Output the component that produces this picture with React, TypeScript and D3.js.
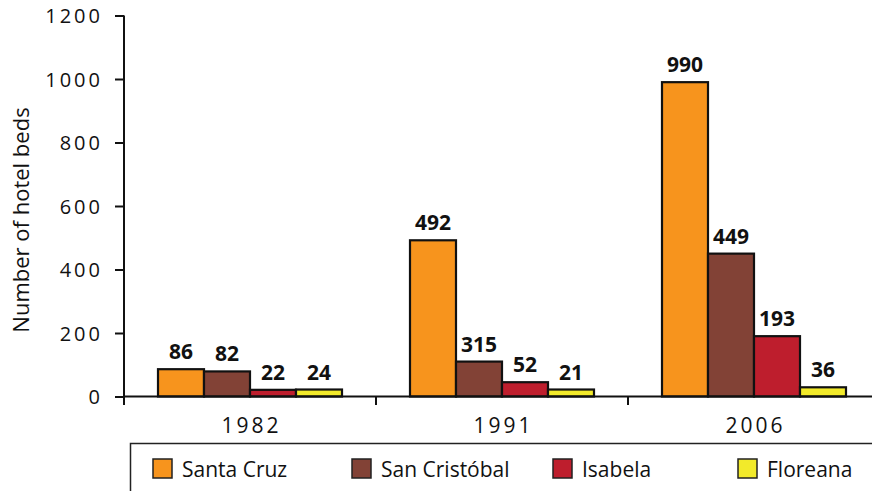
import React, { useEffect, useRef } from 'react';
import * as d3 from 'd3';

// categories and series
const years = ['1982', '1991', '2006'];
const islands = ['Santa Cruz', 'San Cristóbal', 'Isabela', 'Floreana'];
const colors = ['#F7941D', '#824236', '#BE1E2D', '#F2EA2A'];

// bar heights as drawn, per island (1982, 1991, 2006)
const santaCruz = [86, 492, 990];
const sanCristobal = [79, 110, 450];
const isabela = [21, 45, 190];
const floreana = [22, 22, 29];

// printed value labels above the bars
const santaCruzLabels = ['86', '492', '990'];
const sanCristobalLabels = ['82', '315', '449'];
const isabelaLabels = ['22', '52', '193'];
const floreanaLabels = ['24', '21', '36'];

const yTicks = [0, 200, 400, 600, 800, 1000, 1200];

const seriesValues = [santaCruz, sanCristobal, isabela, floreana];
const seriesLabels = [santaCruzLabels, sanCristobalLabels, isabelaLabels, floreanaLabels];

// legend swatch positions
const legendX = [153, 352, 553, 738];

const W = 872;
const H = 491;

const App: React.FC = () => {
  const ref = useRef<SVGSVGElement>(null);

  useEffect(() => {
    const svg = d3.select(ref.current);
    svg.selectAll('*').remove();

    const font = "'Open Sans', sans-serif";
    const axisX = 124;

    const x = d3.scaleBand<string>().domain(years).range([axisX, axisX + 252 * 3]).padding(0);
    const xInner = d3.scaleBand<string>().domain(islands).range([34, 218]).padding(0);
    const y = d3.scaleLinear().domain([0, 1200]).range([396.5, 15.5]);

    // bars
    const rows = years.flatMap((yr, i) =>
      islands.map((isl, j) => ({ yr, isl, j, v: seriesValues[j][i], label: seriesLabels[j][i] }))
    );

    const g = svg.append('g');
    g.selectAll('rect.bar')
      .data(rows)
      .enter()
      .append('rect')
      .attr('class', 'bar')
      .attr('x', d => (x(d.yr) as number) + (xInner(d.isl) as number))
      .attr('y', d => y(d.v))
      .attr('width', xInner.bandwidth())
      .attr('height', d => y(0) - y(d.v))
      .attr('fill', d => colors[d.j])
      .attr('stroke', '#111')
      .attr('stroke-width', 2.2);

    g.selectAll('text.val')
      .data(rows)
      .enter()
      .append('text')
      .attr('class', 'val')
      .attr('x', d => (x(d.yr) as number) + (xInner(d.isl) as number) + xInner.bandwidth() / 2)
      .attr('y', d => y(d.v) - 10)
      .attr('text-anchor', 'middle')
      .attr('font-family', font)
      .attr('font-weight', 'bold')
      .attr('font-size', 21)
      .attr('fill', '#111')
      .text(d => d.label);

    // y axis
    const yAxis = svg.append('g')
      .attr('transform', `translate(${axisX},0)`)
      .call(d3.axisLeft(y).tickValues(yTicks).tickFormat(d3.format('d')).tickSize(9).tickPadding(0).tickSizeOuter(0));
    yAxis.select('.domain').remove();
    yAxis.selectAll('.tick line').attr('stroke', '#111').attr('stroke-width', 2);
    yAxis.selectAll('.tick text')
      .attr('x', -21)
      .attr('dy', '0.35em')
      .attr('font-family', font)
      .attr('font-size', 20)
      .attr('letter-spacing', 3)
      .attr('fill', '#111');
    svg.append('line')
      .attr('x1', axisX).attr('x2', axisX)
      .attr('y1', y(1200)).attr('y2', 405)
      .attr('stroke', '#111').attr('stroke-width', 2);

    // x axis
    svg.append('line')
      .attr('x1', axisX).attr('x2', W)
      .attr('y1', y(0)).attr('y2', y(0))
      .attr('stroke', '#111').attr('stroke-width', 2);
    svg.selectAll('line.xtick')
      .data(years.slice(1))
      .enter()
      .append('line')
      .attr('class', 'xtick')
      .attr('x1', d => x(d) as number).attr('x2', d => x(d) as number)
      .attr('y1', y(0)).attr('y2', 405)
      .attr('stroke', '#111').attr('stroke-width', 2);
    svg.selectAll('text.xlab')
      .data(years)
      .enter()
      .append('text')
      .attr('class', 'xlab')
      .attr('x', d => (x(d) as number) + x.bandwidth() / 2 + 1.5)
      .attr('y', 433)
      .attr('text-anchor', 'middle')
      .attr('font-family', font)
      .attr('font-size', 21)
      .attr('letter-spacing', 3)
      .attr('fill', '#111');
    svg.selectAll('text.xlab').text(d => d as string);

    // y label
    svg.append('text')
      .attr('transform', 'translate(29,220) rotate(-90)')
      .attr('text-anchor', 'middle')
      .attr('font-family', font)
      .attr('font-size', 22)
      .attr('fill', '#111')
      .text('Number of hotel beds');

    // legend
    svg.append('rect')
      .attr('x', 130.5).attr('y', 443.5)
      .attr('width', 800).attr('height', 100)
      .attr('fill', 'none')
      .attr('stroke', '#222').attr('stroke-width', 1.5);
    const lg = svg.selectAll('g.leg')
      .data(islands)
      .enter()
      .append('g')
      .attr('class', 'leg')
      .attr('transform', (_, i) => `translate(${legendX[i]},459)`);
    lg.append('rect')
      .attr('width', 19).attr('height', 19)
      .attr('fill', (_, i) => colors[i])
      .attr('stroke', '#222').attr('stroke-width', 1.5);
    lg.append('text')
      .attr('x', 29).attr('y', 17.5)
      .attr('font-family', font)
      .attr('font-size', 21)
      .attr('fill', '#111')
      .text(d => d);
  }, []);

  return (
    <svg
      ref={ref}
      width={W}
      height={H}
      style={{ position: 'absolute', left: 0, top: 0, background: '#fff' }}
    />
  );
};

export default App;
